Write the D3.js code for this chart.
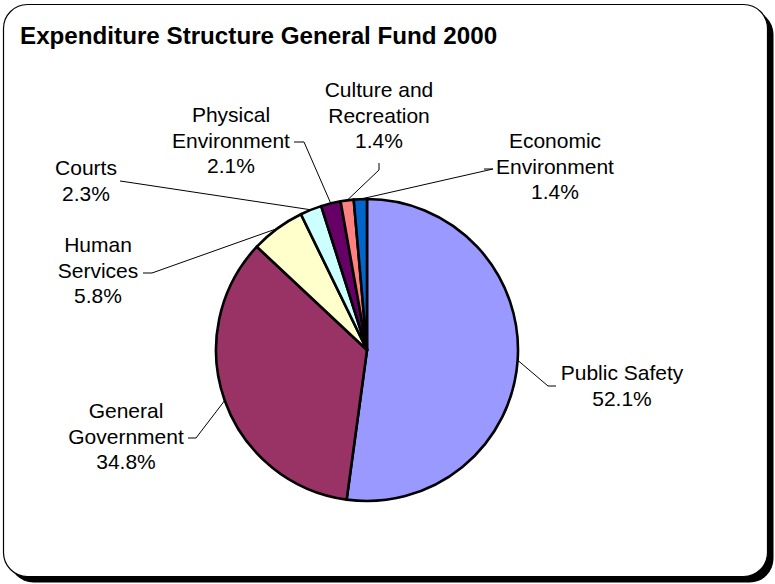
<!DOCTYPE html>
<html>
<head>
<meta charset="utf-8">
<script src="https://cdn.jsdelivr.net/npm/d3@7"></script>
<style>
  html, body { margin: 0; padding: 0; background: #fff; }
  svg { display: block; }
  text { font-family: "Liberation Sans", Arial, sans-serif; fill: #000; }
</style>
</head>
<body>
<svg id="chart" width="775" height="584"></svg>
<script>
// Expenditure shares, in percent
const categories = ["Public Safety", "General Government", "Human Services", "Courts",
                    "Physical Environment", "Culture and Recreation", "Economic Environment"];
const shares = [52.1, 34.8, 5.8, 2.3, 2.1, 1.4, 1.4];
const labelLines = [
  ["Public Safety"],
  ["General", "Government"],
  ["Human", "Services"],
  ["Courts"],
  ["Physical", "Environment"],
  ["Culture and", "Recreation"],
  ["Economic", "Environment"]
];
const sliceColors = ["#9999FF", "#993366", "#FFFFCC", "#CCFFFF", "#660066", "#FF8080", "#0066CC"];

// Label placement: text centre x, first baseline y, and the leader's bend points
const labelLayout = [
  { cx: 622, y0: 380, bend: [[556, 386], [548, 386]] },
  { cx: 126, y0: 418, bend: [[188, 438], [196, 438]] },
  { cx: 98,  y0: 252, bend: [[143, 273], [152, 273]] },
  { cx: 86,  y0: 175, bend: [[120, 181], [127, 182]] },
  { cx: 231, y0: 122, bend: [[294, 142], [304, 142]] },
  { cx: 379, y0: 97,  bend: [[379, 163], [379, 170]] },
  { cx: 555, y0: 148, bend: [[484, 169], [493, 169]] }
];

const svg = d3.select("#chart");

// Frame with drop shadow
const frame = { x: 3.5, y: 4.5, w: 764, h: 572, r: 24, shadow: 6 };
svg.append("rect")
  .attr("x", frame.x + frame.shadow).attr("y", frame.y + frame.shadow)
  .attr("width", frame.w).attr("height", frame.h)
  .attr("rx", frame.r).attr("ry", frame.r).attr("fill", "#000");
svg.append("rect")
  .attr("x", frame.x).attr("y", frame.y).attr("width", frame.w).attr("height", frame.h)
  .attr("rx", frame.r).attr("ry", frame.r).attr("fill", "#fff")
  .attr("stroke", "#000").attr("stroke-width", 1.2);

svg.append("text")
  .attr("x", 20).attr("y", 44)
  .attr("font-size", 24.2).attr("font-weight", "bold")
  .text("Expenditure Structure General Fund 2000");

const cx = 367, cy = 350, R = 151;
const data = categories.map((c, i) => ({ name: c, value: shares[i], color: sliceColors[i],
  lines: labelLines[i].concat([shares[i].toFixed(1) + "%"]), layout: labelLayout[i] }));

const pie = d3.pie().value(d => d.value).sort(null);
const arcs = pie(data);
const arc = d3.arc().innerRadius(0).outerRadius(R);

const g = svg.append("g").attr("transform", `translate(${cx},${cy})`);
g.selectAll("path.slice").data(arcs).join("path")
  .attr("class", "slice")
  .attr("d", arc)
  .attr("fill", d => d.data.color)
  .attr("stroke", "#000").attr("stroke-width", 2.6).attr("stroke-linejoin", "round");

// Leader lines: from slice edge at its mid angle to the label's bend
const line = d3.line();
arcs.forEach(a => {
  const mid = (a.startAngle + a.endAngle) / 2;
  const px = cx + R * Math.sin(mid), py = cy - R * Math.cos(mid);
  const b = a.data.layout.bend;
  svg.append("path")
    .attr("d", line([b[0], b[1], [px, py]]))
    .attr("fill", "none").attr("stroke", "#000").attr("stroke-width", 1);
});

// Labels
arcs.forEach(a => {
  const L = a.data.layout;
  const t = svg.append("text").attr("text-anchor", "middle").attr("font-size", 21);
  a.data.lines.forEach((s, i) => {
    t.append("tspan").attr("x", L.cx).attr("y", L.y0 + i * 25.5).text(s);
  });
});
</script>
</body>
</html>
